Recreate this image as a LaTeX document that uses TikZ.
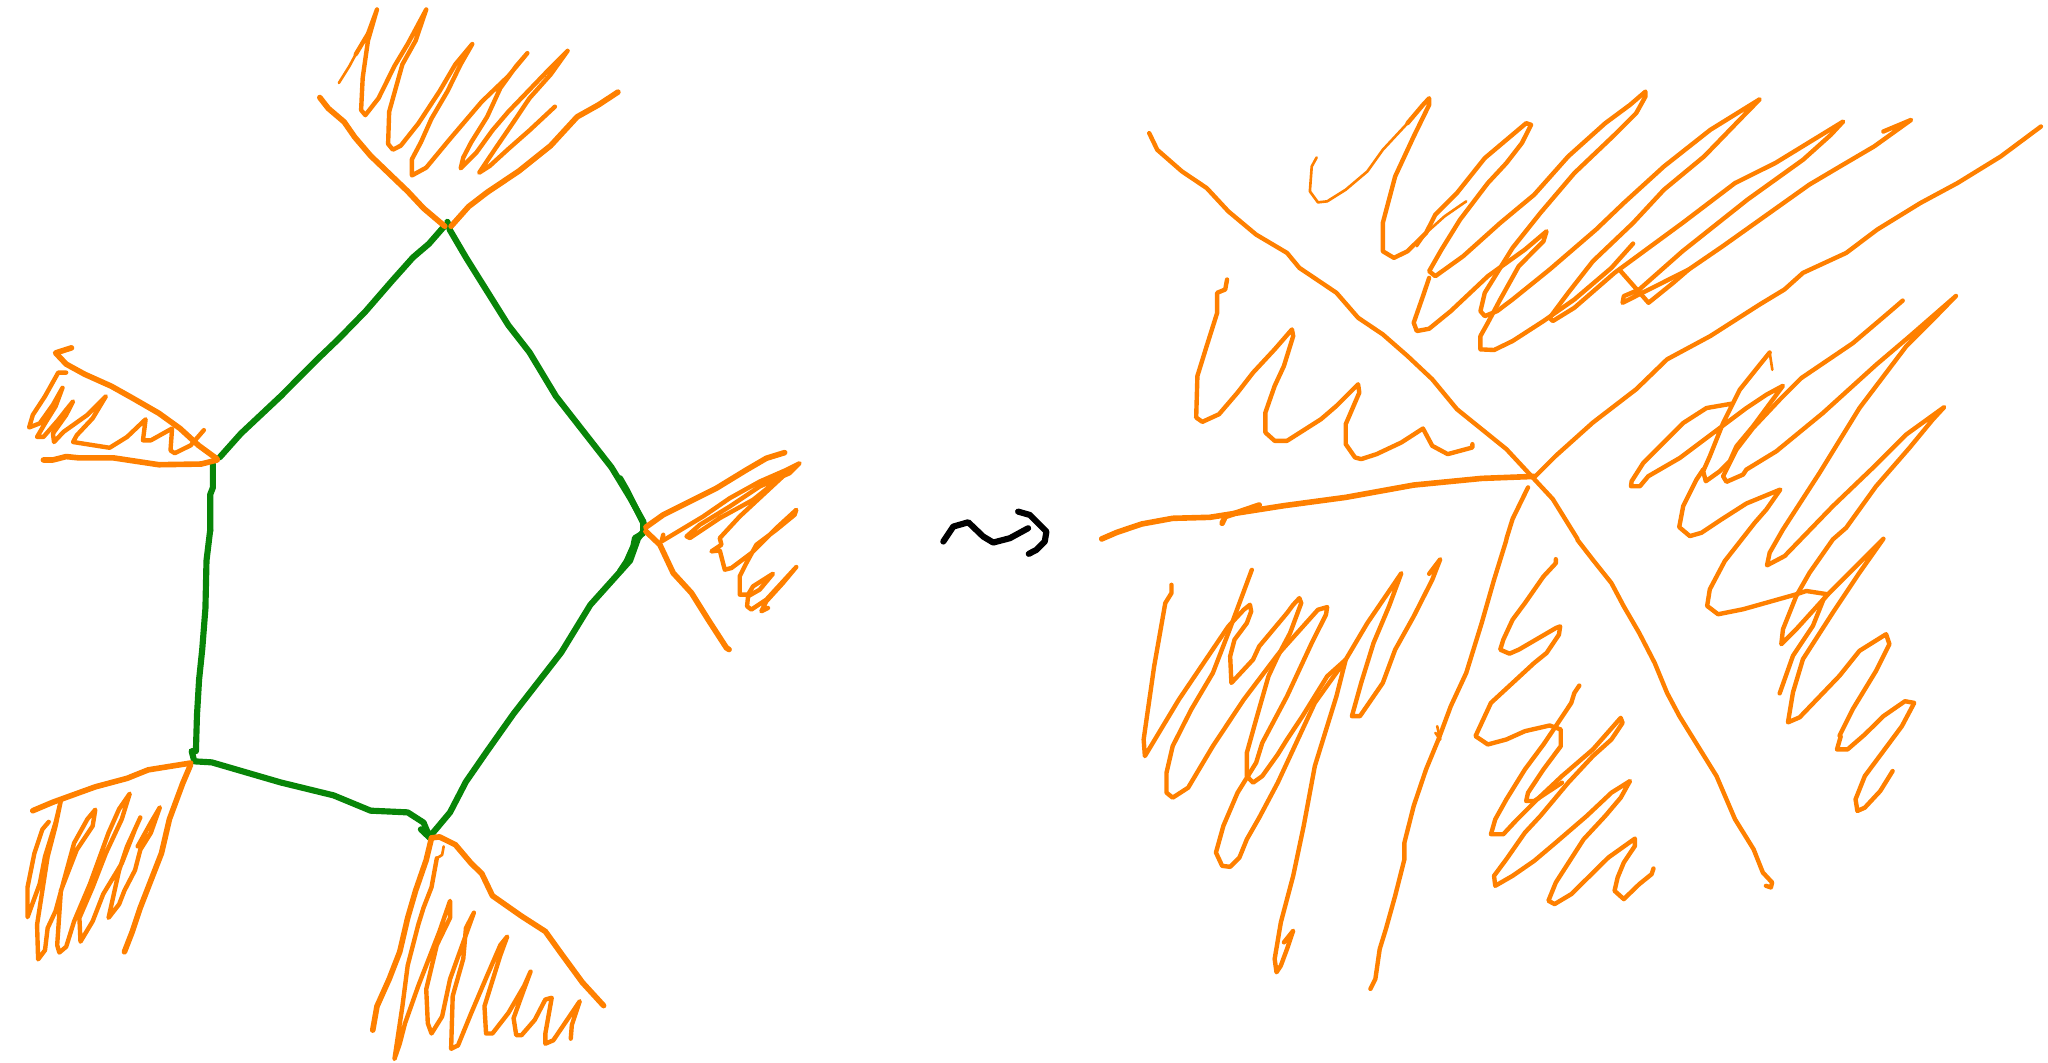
\documentclass[tikz,border=0pt]{standalone}
\usepackage{xcolor}
\usepackage{tikz}
\definecolor{myorange}{RGB}{255,128,0}
\definecolor{mygreen}{RGB}{8,133,8}
\tikzset{
  branch/.style={draw=myorange, line width=1.6pt, line cap=round, line join=round},
  fan/.style={draw=myorange, line width=1.25pt, line cap=round, line join=round},
  hair/.style={draw=myorange, line width=0.75pt, line cap=round, line join=round},
  edgeline/.style={draw=mygreen, line width=1.75pt, line cap=round, line join=round},
  squiggle/.style={draw=black, line width=1.75pt, line cap=round, line join=round},
  cropnw/.style={x=0.005294cm, y=-0.003381cm},
  cropsw/.style={shift={(0cm,-5.30cm)}, x=0.005294cm, y=-0.003399cm},
  cropne/.style={shift={(10.80cm,-0.60cm)}, x=0.006173cm, y=-0.003333cm},
  cropse/.style={shift={(10.80cm,-5.00cm)}, x=0.006173cm, y=-0.003333cm},
  cropfan/.style={shift={(6.20cm,-4.30cm)}, x=0.003333cm, y=-0.003333cm},
  croparrow/.style={shift={(9.30cm,-4.90cm)}, x=0.003333cm, y=-0.003333cm},
  cropright/.style={shift={(16.20cm,-2.80cm)}, x=0.003333cm, y=-0.003333cm}
}
\begin{document}
\begin{tikzpicture}
  \useasboundingbox (0,0) rectangle (20.48,-10.63);

  % Pentagon, upper half
  \begin{scope}[cropnw]
    \draw[edgeline] (838,670) -- (810,720) -- (780,760) -- (740,830) -- (690,920) -- (640,1000) -- (600,1060) -- (530,1170) -- (455,1280) -- (415,1350);
    \draw[edgeline] (845,655) -- (850,680) -- (880,760) -- (920,860) -- (960,960) -- (1000,1040) -- (1050,1170) -- (1110,1290) -- (1155,1380) -- (1190,1470) -- (1215,1540) -- (1218,1568);
    \draw[edgeline] (402,1370) -- (402,1440) -- (397,1460) -- (397,1568);
  \end{scope}
  % Pentagon, lower half
  \begin{scope}[cropsw]
    \draw[edgeline] (397,0) -- (390,90) -- (388,230) -- (382,350) -- (376,440) -- (372,545) -- (370,650) -- (362,650) -- (367,680) -- (400,683) -- (530,742) -- (630,780) -- (700,825) -- (770,830) -- (800,860) -- (812,905) -- (795,880) -- (815,895) -- (850,830) -- (880,740) -- (920,650) -- (970,540) -- (1060,360) -- (1115,220) -- (1190,90) -- (1205,25) -- (1217,0);
  \end{scope}

  % Top and left fans
  \begin{scope}[cropnw]
    \draw[branch] (604,288) -- (620,320) -- (650,360) -- (670,405) -- (700,460) -- (740,520) -- (770,565) -- (800,615) -- (840,668);
    \draw[branch] (852,668) -- (885,610) -- (920,568) -- (980,505) -- (1040,430) -- (1090,345) -- (1130,310) -- (1167,272);
    \draw[hair] (640,245) -- (660,195) -- (672,160);
    \draw[fan] (672,160) -- (695,100) -- (712,28) -- (695,120) -- (685,230) -- (682,325) -- (690,340) -- (715,290) -- (745,195) -- (770,130) -- (805,28) -- (785,120) -- (760,190) -- (735,330) -- (733,425) -- (742,442) -- (757,430) -- (790,365) -- (830,270) -- (860,190) -- (892,130) -- (870,190) -- (845,270) -- (815,350) -- (795,420) -- (778,470) -- (778,518) -- (805,495) -- (850,410) -- (910,300) -- (960,225) -- (996,157) -- (975,195) -- (945,260) -- (920,345) -- (890,420) -- (875,465) -- (870,497) -- (900,450) -- (930,385) -- (960,330) -- (1000,265) -- (1040,200) -- (1072,150) -- (1040,220) -- (1000,290) -- (970,360) -- (935,440) -- (905,510) -- (925,490) -- (960,440) -- (1000,385) -- (1048,315);
    \draw[branch] (135,1027) -- (105,1042) -- (125,1075) -- (160,1105) -- (210,1140) -- (250,1175) -- (300,1220) -- (340,1265) -- (375,1315) -- (410,1355);
    \draw[branch] (410,1358) -- (380,1370) -- (300,1372) -- (215,1352) -- (150,1352) -- (125,1348) -- (100,1358) -- (82,1358);
    \draw[fan] (125,1100) -- (110,1100) -- (85,1170) -- (62,1225) -- (55,1262) -- (75,1250) -- (100,1195) -- (118,1145) -- (105,1200) -- (85,1250) -- (70,1290) -- (82,1290) -- (110,1240) -- (125,1210) -- (138,1185) -- (125,1225) -- (100,1280) -- (102,1305) -- (120,1275) -- (165,1225) -- (200,1170) -- (175,1235) -- (145,1285) -- (138,1305) -- (207,1322) -- (240,1290) -- (275,1238) -- (270,1300) -- (285,1300) -- (325,1265) -- (322,1330) -- (330,1338) -- (360,1315) -- (385,1270);
  \end{scope}

  % Bottom fans
  \begin{scope}[cropsw]
    \draw[branch] (62,825) -- (100,800) -- (180,755) -- (240,730) -- (280,705) -- (340,690) -- (360,685);
    \draw[branch] (360,690) -- (345,745) -- (320,850) -- (305,950) -- (285,1030) -- (265,1110) -- (250,1180) -- (235,1240);
    \draw[fan] (92,858) -- (80,880) -- (65,950) -- (52,1050) -- (52,1138) -- (75,1040) -- (85,960) -- (105,860) -- (115,795) -- (105,870) -- (90,960) -- (80,1060) -- (70,1160) -- (72,1262) -- (85,1235) -- (90,1170) -- (105,1120) -- (140,920) -- (165,850) -- (180,822) -- (175,870) -- (145,940) -- (115,1060) -- (108,1220) -- (112,1242) -- (125,1225) -- (140,1150) -- (170,1040) -- (205,890) -- (225,820) -- (245,775) -- (230,850) -- (200,950) -- (175,1050) -- (150,1140) -- (152,1210) -- (175,1150) -- (195,1070) -- (230,980) -- (255,880) -- (265,845) -- (240,930) -- (225,1000) -- (205,1140) -- (225,1100) -- (235,1060) -- (255,1000) -- (265,940) -- (285,890) -- (302,815) -- (285,860) -- (260,930);
    \draw[branch] (815,905) -- (830,902) -- (860,925) -- (890,980) -- (910,1010) -- (930,1075) -- (985,1135) -- (1030,1180) -- (1060,1245) -- (1100,1330) -- (1140,1398);
    \draw[branch] (815,905) -- (805,970) -- (785,1060) -- (770,1140) -- (755,1240) -- (735,1320) -- (712,1400) -- (704,1470);
    \draw[hair] (838,930) -- (835,955) -- (825,965);
    \draw[fan] (825,965) -- (815,1050) -- (800,1110) -- (790,1160) -- (770,1280) -- (760,1400) -- (745,1555) -- (755,1510) -- (765,1450) -- (790,1340) -- (810,1260) -- (830,1180) -- (850,1090) -- (850,1140) -- (825,1220) -- (805,1350) -- (808,1450) -- (815,1480) -- (835,1430) -- (850,1320) -- (880,1190) -- (895,1125) -- (880,1170) -- (875,1260) -- (855,1370) -- (852,1525) -- (865,1515) -- (890,1420) -- (920,1310) -- (945,1220) -- (958,1195) -- (945,1250) -- (915,1400) -- (918,1480) -- (930,1480) -- (960,1420) -- (990,1340) -- (1002,1298) -- (985,1370) -- (970,1435) -- (975,1485) -- (985,1485) -- (1010,1440) -- (1030,1380) -- (1042,1375) -- (1030,1480) -- (1030,1510) -- (1045,1500) -- (1095,1385) -- (1080,1455) -- (1078,1495);
  \end{scope}

  % Right fan of the pentagon
  \begin{scope}[cropfan]
    \draw[edgeline] (0,145) -- (20,180) -- (50,240) -- (70,280) -- (70,310) -- (45,325) -- (40,350) -- (20,395) -- (0,425);
    \draw[branch] (78,292) -- (130,255) -- (200,220) -- (290,175) -- (380,120) -- (440,85) -- (495,68);
    \draw[branch] (78,305) -- (120,345) -- (160,430) -- (215,490) -- (265,570) -- (320,655) -- (328,660);
    \draw[fan] (130,315) -- (125,335) -- (250,260) -- (330,205) -- (420,155) -- (500,120) -- (540,100) -- (510,130) -- (420,170) -- (330,230) -- (240,285) -- (200,320) -- (210,325) -- (300,265) -- (400,210) -- (500,130) -- (430,195) -- (360,260) -- (300,325) -- (305,345) -- (275,365) -- (300,362) -- (315,420) -- (335,415) -- (395,370) -- (470,295) -- (530,240) -- (525,255) -- (470,300) -- (410,345) -- (380,400) -- (360,440) -- (360,495) -- (385,495) -- (400,470) -- (460,432) -- (420,480) -- (385,500) -- (382,530) -- (395,540) -- (440,510) -- (530,412) -- (490,460) -- (440,515) -- (425,545) -- (445,535);
  \end{scope}

  % Squiggle between the two sketches
  \begin{scope}[croparrow]
    \draw[squiggle] (40,155) -- (70,110) -- (115,97) -- (160,140) -- (190,158) -- (240,145) -- (295,115);
    \draw[squiggle] (265,65) -- (300,75) -- (350,125) -- (345,155) -- (320,180) -- (297,192);
  \end{scope}

  % Star, upper part
  \begin{scope}[cropne]
    \draw[fan] (112,220) -- (125,270) -- (165,335) -- (205,385) -- (240,455) -- (285,525) -- (335,580) -- (355,625) -- (415,700) -- (450,775) -- (490,825) -- (530,890) -- (570,960) -- (610,1050) -- (650,1110) -- (690,1170) -- (730,1250) -- (765,1320) -- (805,1440);
    \draw[fan] (735,1255) -- (770,1190) -- (830,1090) -- (900,990) -- (950,900) -- (1020,830) -- (1100,735) -- (1140,690) -- (1170,640) -- (1240,580) -- (1290,510) -- (1360,430) -- (1420,370) -- (1490,290) -- (1555,200);
    \draw[branch] (735,1252) -- (650,1258) -- (540,1278) -- (430,1315) -- (330,1340) -- (210,1375) -- (150,1378) -- (100,1395) -- (60,1420) -- (35,1440);
    \draw[fan] (725,1285) -- (700,1380) -- (690,1440);
    \draw[fan] (238,660) -- (235,690) -- (222,700) -- (222,760) -- (205,860) -- (190,950) -- (188,1075) -- (198,1088) -- (225,1065) -- (255,1000) -- (280,940) -- (315,870) -- (343,810) -- (345,830) -- (330,920) -- (315,980) -- (300,1060) -- (300,1120) -- (315,1145) -- (335,1145) -- (390,1080) -- (415,1040) -- (450,975) -- (452,1000) -- (430,1095) -- (430,1155) -- (445,1195) -- (455,1200) -- (480,1185) -- (520,1150) -- (555,1108) -- (570,1160) -- (595,1185) -- (635,1165) -- (635,1155);
    \draw[hair] (383,293) -- (375,320) -- (372,395) -- (385,428) -- (400,425) -- (430,390) -- (465,335) -- (490,270) -- (530,190);
    \draw[fan] (530,190) -- (555,135) -- (565,115) -- (565,135) -- (540,230) -- (510,350) -- (490,490) -- (490,575) -- (508,595) -- (530,575) -- (560,520) -- (575,465) -- (610,400) -- (655,295) -- (722,190) -- (730,195) -- (715,250) -- (690,310) -- (660,370) -- (615,480) -- (585,570) -- (565,635) -- (575,650) -- (620,590) -- (680,490) -- (735,405) -- (790,290) -- (850,190) -- (890,135) -- (915,95) -- (915,110) -- (900,160) -- (865,225) -- (800,340) -- (745,460) -- (700,565) -- (680,625) -- (655,700) -- (648,755) -- (655,770) -- (675,755) -- (700,720) -- (760,630) -- (835,510) -- (880,430) -- (945,320) -- (1020,210) -- (1100,118) -- (1070,175) -- (1010,290) -- (945,390) -- (895,490) -- (830,605) -- (790,700) -- (760,775) -- (765,785) -- (800,745) -- (865,640) -- (975,490) -- (1060,370) -- (1125,310) -- (1235,185) -- (1215,225) -- (1170,300) -- (1080,420) -- (975,575) -- (905,690) -- (880,710) -- (878,730) -- (985,630) -- (1040,560) -- (1180,375) -- (1230,320) -- (1285,260) -- (1345,180) -- (1300,215);
    \draw[fan] (565,655) -- (555,710) -- (540,790) -- (545,815) -- (565,808) -- (600,755) -- (660,650) -- (720,570) -- (755,515) -- (750,545) -- (710,620) -- (680,720) -- (660,790) -- (648,830) -- (648,870) -- (670,872) -- (700,845) -- (750,785) -- (800,720) -- (860,625) -- (895,552);
    \draw[fan] (875,635) -- (920,730) -- (960,670) -- (985,630);
    \draw[hair] (625,425) -- (590,470) -- (560,520) -- (545,560);
  \end{scope}

  % Star, east side
  \begin{scope}[cropright]
    \draw[fan] (450,218) -- (420,255) -- (360,330) -- (310,430) -- (270,530) -- (250,575) -- (258,605) -- (300,575) -- (330,545) -- (350,500) -- (400,440) -- (490,318) -- (440,345) -- (380,385) -- (300,445) -- (180,535) -- (85,590) -- (60,620) -- (33,620) -- (35,605) -- (70,550) -- (190,430) -- (260,385) -- (335,372);
    \draw[hair] (450,218) -- (458,270);
    \draw[fan] (850,62) -- (800,105) -- (700,190) -- (545,295) -- (480,360) -- (400,445) -- (350,510) -- (310,590) -- (320,607) -- (370,585) -- (380,570) -- (470,515) -- (610,400) -- (770,255) -- (870,170) -- (1010,48) -- (940,120) -- (860,200) -- (720,385) -- (600,580) -- (490,750) -- (450,820) -- (442,858) -- (495,830) -- (640,680) -- (760,565) -- (860,465) -- (975,382) -- (940,420) -- (870,505) -- (770,620) -- (680,745) -- (640,780) -- (570,880) -- (530,950) -- (490,1050) -- (485,1095) -- (530,1050) -- (625,945) -- (792,778) -- (720,880) -- (640,1000) -- (550,1140) -- (520,1240) -- (505,1330) -- (540,1315) -- (660,1190) -- (720,1115) -- (800,1065) -- (810,1095) -- (770,1175) -- (700,1290) -- (660,1370);
    \draw[fan] (480,1243) -- (520,1130) -- (580,1040) -- (612,960) -- (625,945) -- (560,935) -- (530,945) -- (370,990) -- (295,1005) -- (262,980) -- (270,930) -- (315,845) -- (405,730) -- (440,690) -- (482,630) -- (380,672) -- (305,720) -- (245,760) -- (210,770) -- (178,743) -- (190,680) -- (230,600) -- (250,570);
  \end{scope}

  % Star, lower part
  \begin{scope}[cropse]
    \draw[fan] (805,120) -- (830,180) -- (860,250) -- (880,320) -- (905,400) -- (930,490) -- (950,580) -- (970,650) -- (1000,740) -- (1030,830) -- (1060,960) -- (1090,1050) -- (1105,1120) -- (1120,1150) -- (1118,1165) -- (1110,1160);
    \draw[fan] (690,120) -- (670,240) -- (650,370) -- (625,520) -- (600,620) -- (580,720) -- (560,810) -- (540,920) -- (525,1030) -- (525,1080) -- (510,1190) -- (495,1290) -- (485,1350) -- (478,1440) -- (470,1470);
    \draw[hair] (578,680) -- (583,720) -- (575,700);
    \draw[branch] (230,70) -- (235,50) -- (290,15);
    % left group
    \draw[fan] (148,255) -- (148,280) -- (138,310) -- (120,500) -- (103,720) -- (105,770) -- (160,600) -- (240,380) -- (265,330) -- (275,315) -- (277,335) -- (270,370) -- (250,420) -- (243,470) -- (245,550) -- (250,540) -- (280,480) -- (290,440) -- (335,340) -- (345,315) -- (355,295) -- (358,310) -- (340,400) -- (320,470) -- (305,530) -- (285,660) -- (270,760) -- (270,830) -- (280,850) -- (295,830) -- (320,765) -- (335,720) -- (360,650) -- (400,530) -- (430,480) -- (465,370) -- (520,220) -- (500,320) -- (475,430) -- (455,550) -- (440,650) -- (453,650) -- (490,550) -- (510,450) -- (540,350) -- (570,240) -- (583,178) -- (565,222);
    \draw[fan] (278,210) -- (268,260) -- (250,350) -- (240,400) -- (215,520) -- (180,630) -- (150,740) -- (140,820) -- (140,880) -- (150,895) -- (175,865) -- (215,740) -- (265,600) -- (320,465) -- (385,330) -- (400,322) -- (398,345) -- (375,430) -- (335,590) -- (295,730) -- (285,790) -- (255,880) -- (232,980) -- (220,1060) -- (230,1100) -- (243,1103) -- (258,1075) -- (270,1020) -- (290,955) -- (320,850) -- (380,610) -- (430,480) -- (415,590) -- (380,800) -- (362,980) -- (345,1130) -- (325,1270) -- (315,1380) -- (318,1420) -- (325,1400) -- (335,1350) -- (345,1295) -- (330,1330);
    % middle group
    \draw[fan] (770,178) -- (770,190) -- (750,230) -- (720,310) -- (700,360) -- (685,420) -- (680,450) -- (695,462) -- (710,450) -- (770,385) -- (777,380) -- (775,405) -- (755,460) -- (735,490) -- (665,610) -- (655,650) -- (640,710) -- (660,735) -- (690,720) -- (720,695) -- (760,678) -- (778,690) -- (778,740) -- (750,810) -- (725,880) -- (722,905) -- (735,905) -- (780,850);
    \draw[fan] (808,558) -- (800,580) -- (795,610) -- (770,680) -- (750,735) -- (720,810) -- (690,900) -- (672,960) -- (665,1005) -- (685,1005) -- (705,965) -- (740,900) -- (780,830) -- (830,750) -- (875,655) -- (878,670) -- (860,720) -- (830,770) -- (790,850) -- (745,950) -- (720,1000) -- (690,1080) -- (670,1130) -- (672,1160) -- (700,1130) -- (735,1085) -- (770,1030) -- (820,950) -- (860,880) -- (890,845) -- (875,895) -- (850,950) -- (815,1020) -- (770,1150) -- (758,1205) -- (768,1215) -- (795,1185) -- (855,1075) -- (898,1018) -- (898,1040) -- (880,1090) -- (870,1135) -- (865,1175) -- (880,1200) -- (905,1155) -- (925,1125) -- (928,1108);
    % right group
    \draw[fan] (1231,711) -- (1225,750) -- (1242,750) -- (1270,705) -- (1300,650) -- (1335,605) -- (1350,610) -- (1330,680) -- (1270,830) -- (1255,900) -- (1258,935) -- (1270,925) -- (1295,875) -- (1315,815);
  \end{scope}
\end{tikzpicture}
\end{document}
